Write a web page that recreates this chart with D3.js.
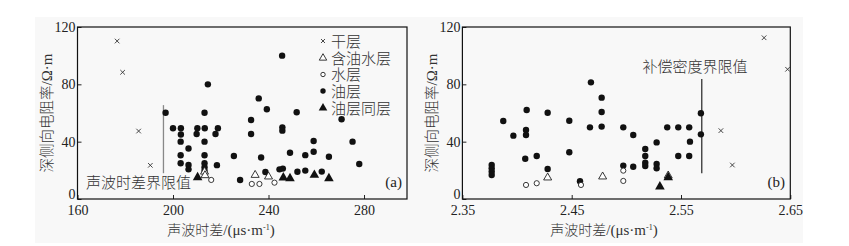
<!DOCTYPE html>
<html><head><meta charset="utf-8">
<script src="https://cdn.jsdelivr.net/npm/d3@7"></script>
<style>
body{margin:0;background:#fff;}
svg{display:block;}
.num{font-family:"Liberation Serif","Times New Roman",serif;font-size:14px;fill:#222;}
.cjk{font-family:"Liberation Serif","Noto Sans CJK SC",sans-serif;font-size:14px;fill:#333;font-weight:300;}
.ser{font-family:"Liberation Serif","Times New Roman",serif;}
</style></head><body>
<svg id="c" width="849" height="246"></svg>
<script>
// ---------- Panel (a): 声波时差 vs 深侧向电阻率 ----------
const aXTicks = [160, 200, 240, 280];
const yTicks = [0, 40, 80, 120];
const aDry = [[176.6,110.2],[178.9,88.4],[185.6,47.4],[190.5,23.5]];
const aOilWater = [[213.2,19.0],[213.4,16.5],[234.4,16.7],[240.0,15.6]];
const aWater = [[216.0,13.3],[233.0,10.5],[236.2,10.5],[242.5,11.4]];
const aOil = [
 [245.7,100],[214.6,80],[235.9,70.2],[239.3,62.6],[196.9,60.2],[213.2,60.2],[251.8,60.5],[270.6,55.6],[232.7,55.1],
 [200.0,49.4],[203.3,49.4],[210.2,49.4],[213.3,49.4],[218.8,49.4],[245.8,50.0],[245.8,47.7],
 [203.3,45.0],[209.9,45.3],[217.8,45.3],[232.7,45.3],
 [203.2,40],[213.2,40],[258.9,40.5],[275.2,40],
 [206.5,35.2],[249.0,32.3],[258.9,33.0],
 [203.2,30.5],[213.2,30.5],[225.5,30.0],[255.4,30.6],[236.9,29.0],[265.3,29.5],
 [203.2,24.9],[206.5,23.7],[213.2,24.9],[218.4,23.6],[278.0,24.4],
 [206.5,20.7],[213.2,22.1],[213.2,19.7],
 [228.1,13.3],[238.7,18.8],[244.6,20.7],[246.0,21.2],[252.1,19.0],[255.4,19.8],[262.3,19.1]
];
const aOilWaterSame = [[210.3,15.1],[246.2,14.9],[249.0,14.4],[259.2,16.7],[265.3,14.4]];
const aLimitX = 196, aLimitY = [18, 65.5];

// ---------- Panel (b): 补偿密度 vs 深侧向电阻率 ----------
const bXTicks = [2.35, 2.45, 2.55, 2.65];
const bDry = [[2.626,112.5],[2.6475,90.5],[2.5865,47.7],[2.597,23.7]];
const bOilWater = [[2.428,14.9],[2.4783,15.6],[2.5383,16.3]];
const bWater = [[2.4082,9.8],[2.418,11.0],[2.4585,9.8],[2.4972,19.8],[2.4972,12.6]];
const bOil = [
 [2.4676,81.4],[2.4774,70.7],[2.4088,62.1],[2.428,60.2],[2.4774,60.7],[2.5682,59.8],
 [2.3874,54.4],[2.4478,54.6],[2.4082,48.1],[2.4667,50],[2.4774,50.5],[2.4972,50],[2.5374,50],[2.5475,50],[2.5575,50],
 [2.3966,44.2],[2.4082,44.7],[2.5063,44.7],[2.5682,45.1],[2.5277,39.5],[2.5582,40],
 [2.4478,32.6],[2.5173,34.9],[2.418,30],[2.5173,30],[2.5475,30],[2.5575,30],[2.4075,28.1],
 [2.5173,25.3],[2.5173,23],[2.5277,24.4],[2.5277,21.5],[2.4972,23.3],[2.5063,22.5],[2.428,20.9],
 [2.3768,23.7],[2.3768,21.4],[2.3768,19.1],[2.3768,16.7],[2.4576,12.4]
];
const bOilWaterSame = [[2.5307,8.6],[2.5383,15.1]];
const bLimitX = 2.569, bLimitY = [18, 83.8];

const legendLabels = ["干层","含油水层","水层","油层","油层同层"];

const svg = d3.select("#c");
svg.append("rect").attr("x",35).attr("y",17).attr("width",768).attr("height",226).attr("fill","#f8f8f8");

function drawMarks(g, x, y, sets){
  g.selectAll(".dry").data(sets.dry).join("path").attr("class","dry")
   .attr("d", d=>{const px=x(d[0]),py=y(d[1]),s=2.3;return `M${px-s},${py-s}L${px+s},${py+s}M${px-s},${py+s}L${px+s},${py-s}`;})
   .attr("stroke","#333").attr("stroke-width",0.9).attr("fill","none");
  g.selectAll(".oil").data(sets.oil).join("circle").attr("class","oil")
   .attr("cx",d=>x(d[0])).attr("cy",d=>y(d[1])).attr("r",3.2).attr("fill","#111");
  g.selectAll(".water").data(sets.water).join("circle").attr("class","water")
   .attr("cx",d=>x(d[0])).attr("cy",d=>y(d[1])).attr("r",2.6).attr("fill","#fff").attr("stroke","#222").attr("stroke-width",0.9);
  const tri = d3.symbol().type(d3.symbolTriangle);
  g.selectAll(".ow").data(sets.ow).join("path").attr("class","ow")
   .attr("transform",d=>`translate(${x(d[0])},${y(d[1])})`).attr("d",tri.size(28)())
   .attr("fill","#fff").attr("stroke","#222").attr("stroke-width",0.9);
  g.selectAll(".ows").data(sets.ows).join("path").attr("class","ows")
   .attr("transform",d=>`translate(${x(d[0])},${y(d[1])})`).attr("d",tri.size(40)())
   .attr("fill","#111");
}

function frame(g, x, y, xTicks, fmt){
  const [x0,x1]=x.range(), [y0,y1]=y.range();
  const ax = g.append("g").attr("transform",`translate(0,${y0})`)
    .call(d3.axisBottom(x).tickValues(xTicks).tickSize(-4).tickPadding(3).tickFormat(fmt));
  ax.select(".domain").remove();
  ax.selectAll("line").attr("stroke","#222");
  ax.selectAll("text").attr("class","num").attr("fill",null).attr("y",15.5).attr("dy",0);
  const ay = g.append("g").attr("transform",`translate(${x0},0)`)
    .call(d3.axisLeft(y).tickValues(yTicks).tickSize(-4).tickPadding(2));
  ay.select(".domain").remove();
  ay.selectAll("line").attr("stroke","#222");
  ay.selectAll("text").attr("class","num").attr("fill",null)
    .attr("dy", d => d===0 ? "-1px" : "0.32em");
  g.append("rect").attr("x",x0).attr("y",y1).attr("width",x1-x0).attr("height",y0-y1)
   .attr("fill","none").attr("stroke","#111").attr("stroke-width",1.2);
}

function xTitle(g, cx){
  const t = g.append("text").attr("class","cjk").attr("x",cx).attr("y",235).attr("text-anchor","middle").style("font-size","14px");
  t.append("tspan").text("声波时差");
  t.append("tspan").attr("class","ser").style("font-size","15px").text("/(μs·m");
  t.append("tspan").attr("class","ser").attr("dy",-5).style("font-size","8px").text("-1");
  t.append("tspan").attr("class","ser").attr("dy",5).style("font-size","15px").text(")");
}
function yTitle(g, cx){
  const t = g.append("text").attr("class","cjk").attr("transform",`translate(${cx},113) rotate(-90)`).attr("text-anchor","middle")
    .style("font-size","14.5px");
  t.append("tspan").text("深侧向电阻率");
  t.append("tspan").attr("class","ser").style("font-size","15px").text("/Ω·m");
}

// Panel a
const xA = d3.scaleLinear().domain([160, 298]).range([77.5, 407]);
const yA = d3.scaleLinear().domain([0,120]).range([199, 27]);
const gA = svg.append("g");
frame(gA, xA, yA, aXTicks, d3.format("d"));
gA.append("line").attr("x1",xA(aLimitX)).attr("x2",xA(aLimitX)).attr("y1",yA(aLimitY[0])).attr("y2",yA(aLimitY[1]))
  .attr("stroke","#888").attr("stroke-width",1.3);
drawMarks(gA, xA, yA, {dry:aDry, oil:aOil, water:aWater, ow:aOilWater, ows:aOilWaterSame});
gA.append("text").attr("class","cjk").attr("x",86).attr("y",188).style("font-size","15px").text("声波时差界限值");
gA.append("text").attr("class","num").attr("x",402).attr("y",187).attr("text-anchor","end").style("font-size","15px").text("(a)");
xTitle(gA, 221);
yTitle(gA, 52);

// legend in panel a
const legY = [41, 58, 74.5, 91, 108];
const leg = gA.append("g");
["dry","ow","water","oil","ows"].forEach((k,i)=>{
  const cx=323, cy=legY[i];
  if(k==="dry"){ leg.append("path").attr("d",`M${cx-2},${cy-2}L${cx+2},${cy+2}M${cx-2},${cy+2}L${cx+2},${cy-2}`).attr("stroke","#333").attr("stroke-width",0.9); }
  if(k==="ow"){ leg.append("path").attr("transform",`translate(${cx},${cy})`).attr("d",d3.symbol().type(d3.symbolTriangle).size(24)()).attr("fill","#fff").attr("stroke","#222").attr("stroke-width",0.9); }
  if(k==="water"){ leg.append("circle").attr("cx",cx).attr("cy",cy).attr("r",2.2).attr("fill","#fff").attr("stroke","#222").attr("stroke-width",0.9); }
  if(k==="oil"){ leg.append("circle").attr("cx",cx).attr("cy",cy).attr("r",2.7).attr("fill","#111"); }
  if(k==="ows"){ leg.append("path").attr("transform",`translate(${cx},${cy})`).attr("d",d3.symbol().type(d3.symbolTriangle).size(32)()).attr("fill","#111"); }
  leg.append("text").attr("class","cjk").attr("x",331).attr("y",cy+5.5).style("font-size","15px").text(legendLabels[i]);
});

// Panel b
const xB = d3.scaleLinear().domain([2.35, 2.65]).range([462.4, 790.3]);
const yB = d3.scaleLinear().domain([0,120]).range([199, 27]);
const gB = svg.append("g");
svg.append("clipPath").attr("id","clipB").append("rect").attr("x",462.4).attr("y",27).attr("width",790.3-462.4).attr("height",172);
frame(gB, xB, yB, bXTicks, d3.format(".2f"));
gB.append("line").attr("x1",xB(bLimitX)).attr("x2",xB(bLimitX)).attr("y1",yB(bLimitY[0])).attr("y2",yB(bLimitY[1]))
  .attr("stroke","#333").attr("stroke-width",1.3);
const gBm = gB.append("g").attr("clip-path","url(#clipB)");
drawMarks(gBm, xB, yB, {dry:bDry, oil:bOil, water:bWater, ow:bOilWater, ows:bOilWaterSame});
gB.append("text").attr("class","cjk").attr("x",695).attr("y",72).attr("text-anchor","middle").style("font-size","15px").text("补偿密度界限值");
gB.append("text").attr("class","num").attr("x",785).attr("y",187).attr("text-anchor","end").style("font-size","15px").text("(b)");
xTitle(gB, 604);
yTitle(gB, 437);
</script>
</body></html>
